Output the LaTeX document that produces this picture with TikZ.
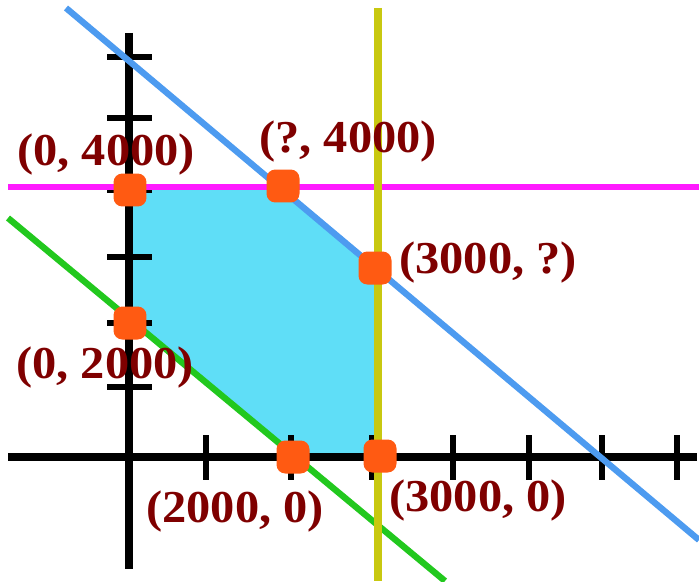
\documentclass[tikz,border=0pt]{standalone}
\usepackage{fontspec}
\setmainfont{Liberation Serif}
\usepackage{xcolor}
\usetikzlibrary{positioning}

\definecolor{regioncyan}{HTML}{5FDEF7}
\definecolor{lineblue}{HTML}{4D9BF0}
\definecolor{linepink}{HTML}{FF1AFF}
\definecolor{linegreen}{HTML}{22C81E}
\definecolor{lineyellow}{HTML}{C8C810}
\definecolor{dotorange}{HTML}{FF5A12}
\definecolor{labelred}{HTML}{7F0000}

\begin{document}
\begin{tikzpicture}[
  x=0.02cm, y=-0.02cm,
  axis/.style={line width=4pt, black},
  tickmark/.style={line width=3.4pt, black},
  bound/.style={line width=3.6pt},
  corner/.style={fill=dotorange, rounded corners=5pt, minimum size=0.66cm,
                 inner sep=0pt},
  lbl/.style={font=\fontsize{26}{30}\selectfont\bfseries, text=labelred,
              anchor=base, inner sep=0pt, xscale=1.06, transform shape},
]
\useasboundingbox (0,0) rectangle (699,581);

% feasible region
\coordinate (pA) at (130,188);
\coordinate (pB) at (281,187);
\coordinate (pC) at (378,268);
\coordinate (pD) at (378,457);
\coordinate (pE) at (294,457);
\coordinate (pF) at (129,320);
\fill[regioncyan] (pA) -- (pB) -- (pC) -- (pD) -- (pE) -- (pF) -- cycle;

% axes and ticks
\draw[axis] (8,457) -- (697,457);
\draw[axis] (129,33) -- (129,569);
\foreach \tx in {206,291,372,453,529,602,677}
  \draw[tickmark] (\tx,435) -- (\tx,480);
\foreach \ty in {57,118,190,257,323,387}
  \draw[tickmark] (107,\ty) -- (152,\ty);

% constraint lines
\draw[bound, linepink] (8,187) -- (699,187);
\draw[bound, lineblue] (66,8) -- (699,540);
\draw[bound, linegreen] (8,218) -- (445,581);
\draw[bound, lineyellow, line width=4.2pt] (378,8) -- (378,581);

% corner points
\node[corner] (cA) at (130,190) {};
\node[corner] (cB) at (283,186) {};
\node[corner] (cC) at (375,268) {};
\node[corner] (cF) at (130,323) {};
\node[corner] (cE) at (293,457) {};
\node[corner] (cD) at (380,456) {};

% labels
\node[lbl] (lA) at (106,165) {(0, 4000)};
\node[lbl] (lB) at (348,152) {(?, 4000)};
\node[lbl] (lC) at (488,273) {(3000, ?)};
\node[lbl] (lF) at (105,378) {(0, 2000)};
\node[lbl] (lE) at (235,522) {(2000, 0)};
\node[lbl] (lD) at (478,511) {(3000, 0)};
\end{tikzpicture}
\end{document}
